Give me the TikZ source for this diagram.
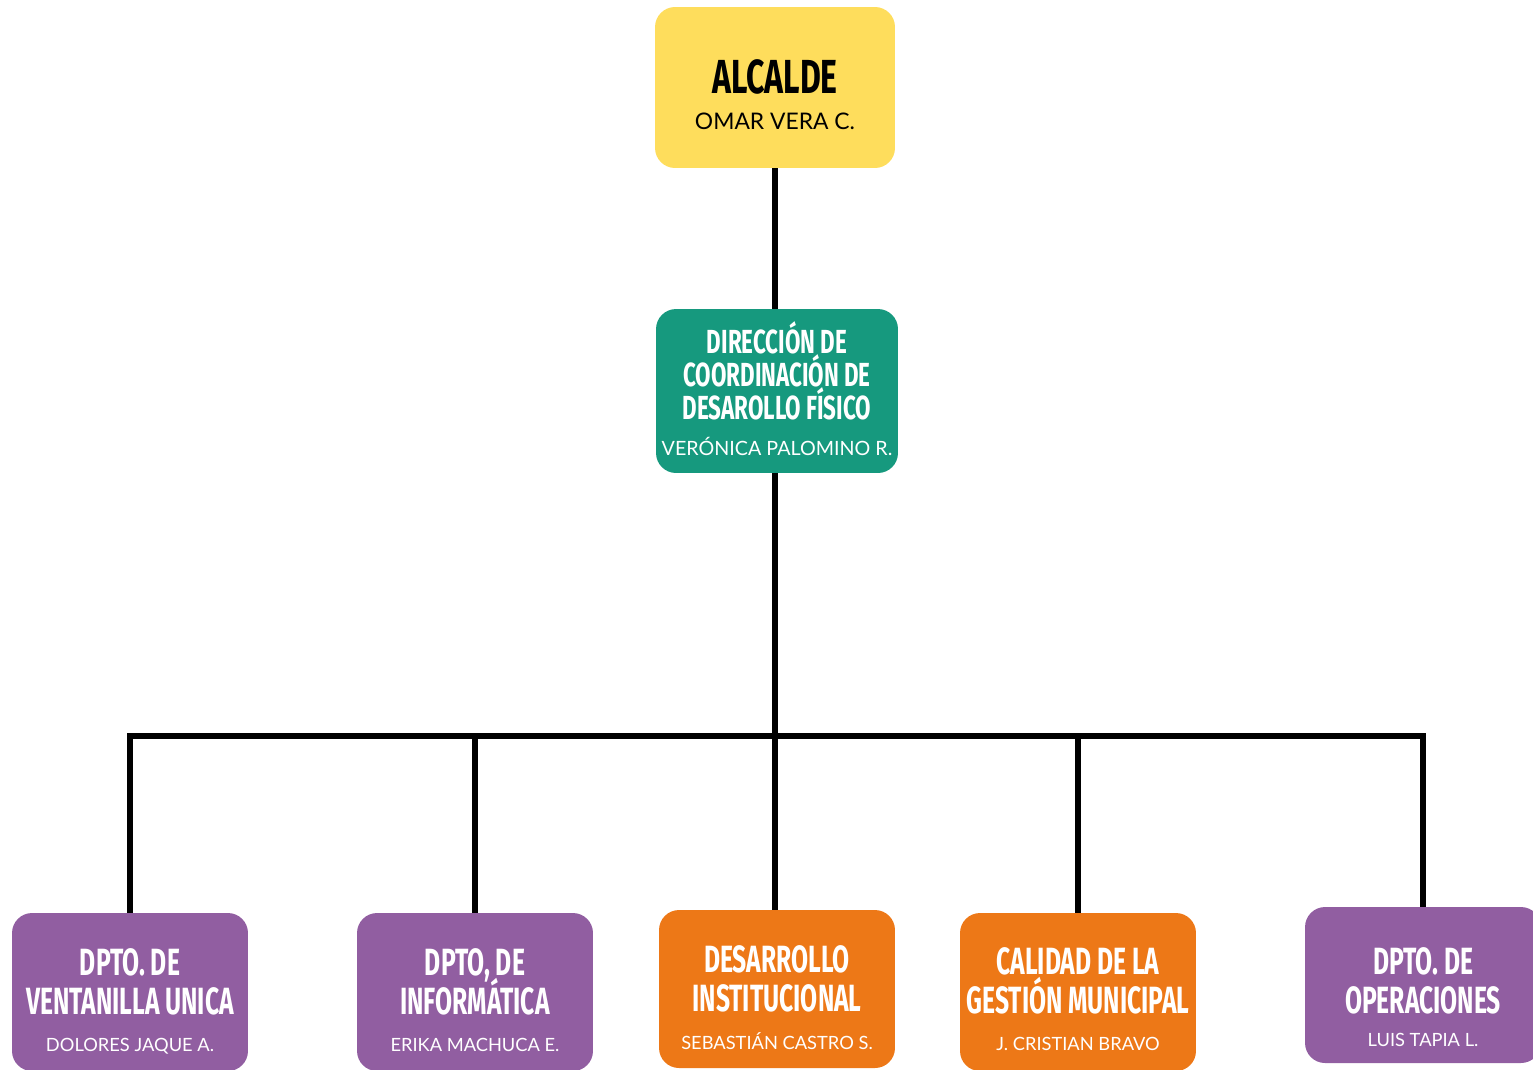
\documentclass[tikz,border=0pt]{standalone}
\usepackage{fontspec}
\setmainfont{Lato}
\newfontfamily\headfont[FakeStretch=0.65]{Fira Sans}
\newfontfamily\headfontancho[FakeStretch=0.67]{Fira Sans}
\usetikzlibrary{positioning,calc}
\definecolor{amarillo}{RGB}{254,221,92}
\definecolor{verde}{RGB}{22,153,126}
\definecolor{morado}{RGB}{145,94,161}
\definecolor{naranjo}{RGB}{237,120,23}
\setlength{\lineskiplimit}{-100pt}
% first line: fixed height, so the text sits where the reference has it
\newcommand{\arriba}[2]{\rule{0pt}{#1}\smash{#2}}
\newcommand{\nombre}[2][10.4]{\smash{\normalfont\fontsize{#1}{21}\selectfont #2}}

\begin{document}
\begin{tikzpicture}[
    x=0.02cm, y=-0.02cm,
    box/.style={rounded corners=0.4cm, minimum width=4.72cm, minimum height=3.16cm, align=center, inner sep=0pt, text=white,
        font=\headfont\bfseries\fontsize{21.6}{22.2}\selectfont},
    link/.style={line width=3.4pt, line join=miter}
]
\useasboundingbox (0,0) rectangle (1533,1069);

% ========== TOP: Alcalde ==========
\node[box, fill=amarillo, text=black, minimum width=4.8cm, minimum height=3.22cm,
    font=\headfontancho\bfseries\fontsize{27.2}{21}\selectfont] (alcalde) at (775,87.5)
    {\arriba{0.96cm}{ALCALDE}\\ \nombre[13]{OMAR VERA C.}};

% ========== MIDDLE: Direccion ==========
\node[box, fill=verde, minimum width=4.84cm, minimum height=3.28cm,
    font=\headfontancho\bfseries\fontsize{19}{19}\selectfont] (direccion) at (777,391)
    {\arriba{0.54cm}{DIRECCIÓN DE}\\ COORDINACIÓN DE\\ DESAROLLO FÍSICO\\[1.5pt] \nombre[11.2]{VERÓNICA PALOMINO R.}};

% ========== BOTTOM ROW: Departamentos ==========
\node[box, fill=morado] (ventanilla) at (130,992) {\arriba{0.86cm}{DPTO. DE}\\ VENTANILLA UNICA\\[-0.6pt] \nombre{DOLORES JAQUE A.}};
\node[box, fill=morado] (informatica) at (475,992) {\arriba{0.86cm}{DPTO, DE}\\ INFORMÁTICA\\[-0.6pt] \nombre{ERIKA MACHUCA E.}};
\node[box, fill=naranjo] (desarrollo) at (777,989) {\arriba{0.88cm}{DESARROLLO}\\ INSTITUCIONAL\\[-0.6pt] \nombre{SEBASTIÁN CASTRO S.}};
\node[box, fill=naranjo] (calidad) at (1078,992) {\arriba{0.82cm}{CALIDAD DE LA}\\ GESTIÓN MUNICIPAL\\[-0.6pt] \nombre{J. CRISTIAN BRAVO}};
\node[box, fill=morado, minimum height=3.12cm] (operaciones) at (1423,985) {\arriba{1.02cm}{DPTO. DE}\\ OPERACIONES\\[-2.9pt] \nombre{LUIS TAPIA L.}};

% ========== Connectors ==========
\coordinate (barra) at (775,736);
\draw[link] (alcalde) -- (direccion.north -| alcalde);
\draw[link] (direccion.south -| barra) -- (barra);
\draw[link] (ventanilla.north) -- (ventanilla |- barra) -- (operaciones |- barra) -- (operaciones.north);
\foreach \n in {informatica,calidad}
    \draw[link] (\n.north) -- (\n |- barra);
\draw[link] (desarrollo.north -| barra) -- (barra);

\end{tikzpicture}
\end{document}
